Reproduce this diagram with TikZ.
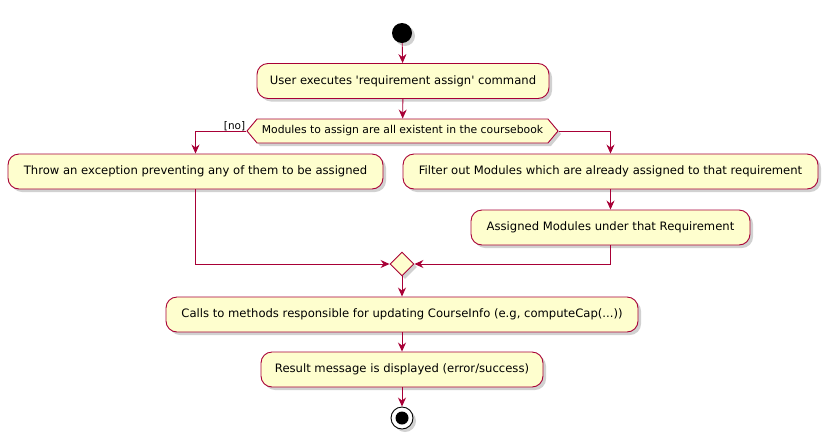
\documentclass[tikz,border=0pt]{standalone}
\usepackage{fontspec}
\setmainfont{DejaVu Sans}
\usetikzlibrary{arrows.meta,shapes.symbols,shadows}
\definecolor{umlfill}{HTML}{FEFECE}
\definecolor{umlline}{HTML}{A80036}
\tikzset{
  shad/.style={drop shadow={shadow xshift=3pt,shadow yshift=-3pt,opacity=0.3,fill=black!60}},
  act/.style={draw=umlline,fill=umlfill,line width=0.9pt,rounded corners=11pt,
    minimum height=35pt,inner sep=0pt,font=\fontsize{11.6}{13}\selectfont,shad},
  dec/.style={signal,signal to=east and west,signal pointer angle=100,draw=umlline,fill=umlfill,
    line width=0.9pt,minimum height=24pt,inner sep=0pt,font=\fontsize{10.8}{12}\selectfont,shad},
  mrg/.style={diamond,draw=umlline,fill=umlfill,line width=0.9pt,minimum width=24pt,minimum height=24pt,inner sep=0pt,shad},
  flow/.style={draw=umlline,line width=0.9pt,-{Stealth[length=9pt,width=8pt,inset=3pt]}},
  lbl/.style={font=\fontsize{10.5}{12}\selectfont,inner sep=1pt}
}
\usetikzlibrary{shapes.geometric}
\begin{document}
\begin{tikzpicture}[x=1pt,y=-1pt]
\useasboundingbox (0,0) rectangle (827,437);
\node[circle,fill=black,minimum size=20pt,inner sep=0pt,shad] (start) at (402,33) {};
\node[act,minimum width=292pt] (user) at (403,81) {User executes \textquotesingle requirement assign\textquotesingle{} command};
\node[dec,minimum width=311pt] (dec) at (402.5,131) {Modules to assign are all existent in the coursebook};
\node[act,minimum width=375pt] (throw) at (195.5,171.5) {Throw an exception preventing any of them to be assigned};
\node[act,minimum width=415pt] (filter) at (610.5,171.5) {Filter out Modules which are already assigned to that requirement};
\node[act,minimum width=279pt] (assigned) at (610.5,227.5) {Assigned Modules under that Requirement};
\node[mrg] (merge) at (402,264) {};
\node[act,minimum width=472pt] (calls) at (402,314.5) {Calls to methods responsible for updating CourseInfo (e.g, computeCap(...))};
\node[act,minimum width=282pt] (result) at (402,369.5) {Result message is displayed (error/success)};
\node[circle,draw=black,line width=0.9pt,fill=white,minimum size=22pt,inner sep=0pt,shad] (end) at (402,418) {};
\node[circle,fill=black,minimum size=13pt,inner sep=0pt] (endin) at (end.center) {};
\draw[flow] (start) -- (user);
\draw[flow] (user) -- (dec);
\draw[flow] (dec.west) -| (throw.north);
\draw[flow] (dec.east) -| (filter.north);
\draw[flow] (filter) -- (assigned);
\draw[flow] (throw.south) |- (merge.west);
\draw[flow] (assigned.south) |- (merge.east);
\draw[flow] (merge) -- (calls);
\draw[flow] (calls) -- (result);
\draw[flow] (result) -- (end);
\node[lbl,anchor=south east] (no) at ([yshift=-1pt]dec.west) {[no]};
\end{tikzpicture}
\end{document}
